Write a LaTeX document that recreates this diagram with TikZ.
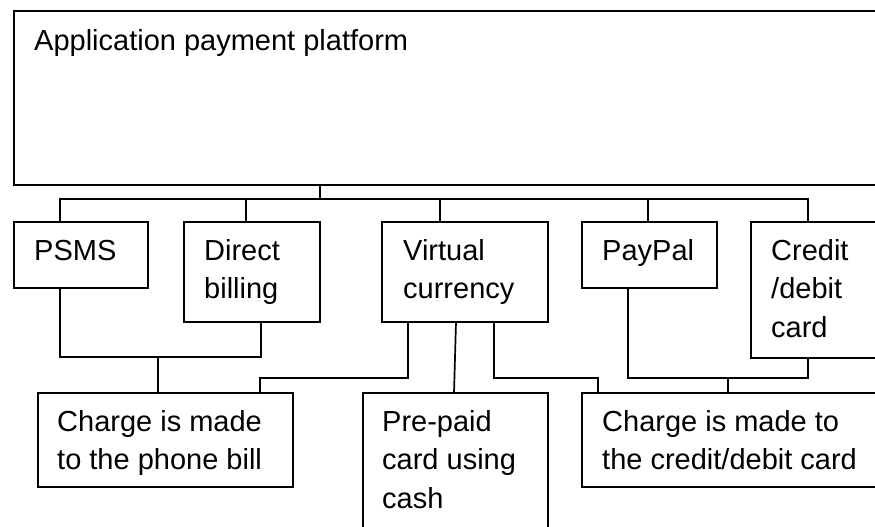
\documentclass[tikz,border=0pt]{standalone}
\usepackage{fontspec}
\setmainfont{Liberation Sans}
\usetikzlibrary{calc}
\begin{document}
\begin{tikzpicture}[x=1pt,y=-1pt,
  box/.style={draw, line width=1.7pt, rectangle, inner sep=0pt, outer sep=0pt, anchor=north west},
  txt/.style={anchor=north west, inner sep=0pt, align=left, font=\fontsize{29}{38.5}\selectfont},
  link/.style={line width=1.7pt}]
\clip (0,0) rectangle (875,527);

% boxes
\node[box, minimum width=876, minimum height=174] (top)     at (14,11)  {};
\node[box, minimum width=134, minimum height=66]  (psms)    at (14,222) {};
\node[box, minimum width=136, minimum height=100] (direct)  at (184,222) {};
\node[box, minimum width=166, minimum height=100] (virtual) at (382,222) {};
\node[box, minimum width=135, minimum height=66]  (paypal)  at (582,222) {};
\node[box, minimum width=139, minimum height=136] (credit)  at (751,222) {};
\node[box, minimum width=255, minimum height=94]  (phone)   at (38,393) {};
\node[box, minimum width=185, minimum height=150] (prepaid) at (363,393) {};
\node[box, minimum width=308, minimum height=94]  (ccard)   at (582,393) {};

% labels (first baseline sits 0.7 baselineskip below the node top)
\node[txt] (ltop)     at (34,23)   {\strut Application payment platform};
\node[txt] (lpsms)    at (34,233)  {\strut PSMS};
\node[txt] (ldirect)  at (204,233) {\strut Direct\\billing};
\node[txt] (lvirtual) at (403,233) {\strut Virtual\\currency};
\node[txt] (lpaypal)  at (602,233) {\strut PayPal};
\node[txt] (lcredit)  at (771,233) {\strut Credit\\/debit\\card};
\node[txt] (lphone)   at (57,404)  {\strut Charge is made\\to the phone bill};
\node[txt] (lprepaid) at (382,404) {\strut Pre-paid\\card using\\cash};
\node[txt] (lccard)   at (602,404) {\strut Charge is made to\\the credit/debit card};

% junction points
\coordinate (bus) at (320,199);
\coordinate (j1) at (158,357);
\coordinate (j2) at (260,378);
\coordinate (j3) at (598,378);
\coordinate (j4) at (728,378);

% platform to payment methods
\draw[link] (bus |- top.south) -- (bus);
\draw[link] ($(psms.north west)+(46,0)$) |- (bus) -| ($(credit.north west)+(57,0)$);
\draw[link] (bus) -| ($(direct.north west)+(62,0)$);
\draw[link] (bus) -| ($(virtual.north west)+(58,0)$);
\draw[link] (bus) -| ($(paypal.north west)+(66,0)$);

% payment methods to charging
\draw[link] ($(psms.south west)+(46,0)$) |- (j1) -| ($(direct.south west)+(77,0)$);
\draw[link] (j1) -- (j1 |- phone.north);
\draw[link] ($(virtual.south west)+(26,0)$) |- (j2) -- (j2 |- phone.north);
\draw[link] ($(virtual.south west)+(74,0)$) -- ($(prepaid.north west)+(91,0)$);
\draw[link] ($(virtual.south west)+(112,0)$) |- (j3) -- (j3 |- ccard.north);
\draw[link] ($(paypal.south west)+(46,0)$) |- (j4) -| ($(credit.south west)+(57,0)$);
\draw[link] (j4) -- (j4 |- ccard.north);
\end{tikzpicture}
\end{document}
